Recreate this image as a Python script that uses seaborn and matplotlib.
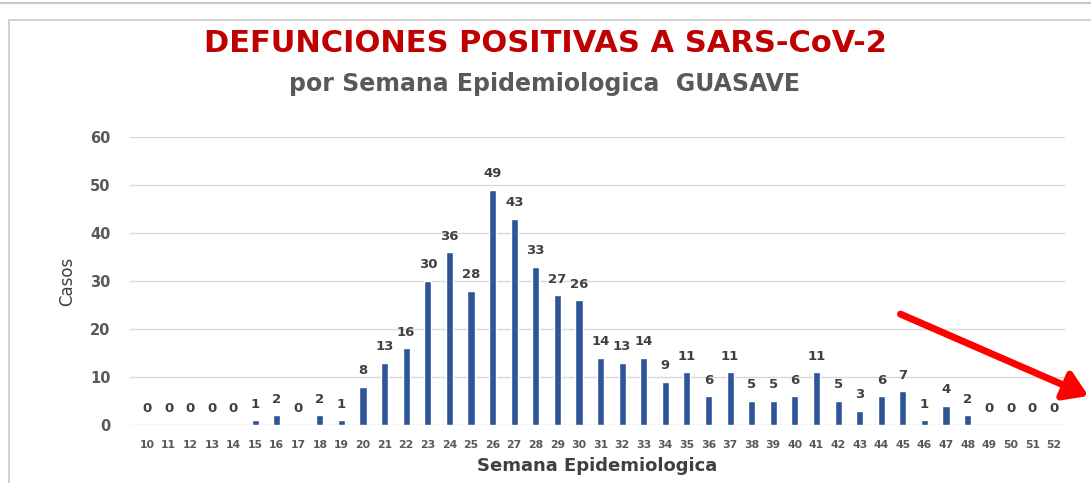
import pandas as pd
import numpy as np
import matplotlib.pyplot as plt
import seaborn as sns
from matplotlib.patches import Rectangle, FancyArrowPatch
from matplotlib.lines import Line2D

# Data
semanas = [str(s) for s in range(10, 53)]
defunciones = [0, 0, 0, 0, 0, 1, 2, 0, 2, 1, 8, 13, 16, 30, 36, 28, 49, 43, 33, 27,
               26, 14, 13, 14, 9, 11, 6, 11, 5, 5, 6, 11, 5, 3, 6, 7, 1, 4, 2, 0,
               0, 0, 0]
yticks = [0, 10, 20, 30, 40, 50, 60]

df = pd.DataFrame({'Semana': semanas, 'Casos': defunciones})

sns.set_style('white')
plt.rcParams['font.family'] = ['DejaVu Sans']

fig = plt.figure(figsize=(10.91, 4.83), dpi=100)
ax = fig.add_axes([0.119, 0.120, 0.857, 0.596])

sns.barplot(data=df, x='Semana', y='Casos', order=semanas, color='#2E5597',
            width=0.33, saturation=1, ax=ax)

ax.bar_label(ax.containers[0], labels=[str(v) for v in defunciones], padding=7,
             fontsize=9.5, fontweight='bold', color='#404040')

ax.set_ylim(0, 60)
ax.set_xlim(-0.8, 42.5)
ax.set_yticks(yticks)
ax.yaxis.grid(True, color='#D9D9D9', linewidth=1)
ax.set_axisbelow(True)
for s in ax.spines.values():
    s.set_visible(False)

ax.tick_params(axis='y', length=0, pad=14, labelsize=10.5, labelcolor='#595959')
ax.tick_params(axis='x', length=0, pad=11, labelsize=7.8, labelcolor='#595959')
for t in ax.get_yticklabels() + ax.get_xticklabels():
    t.set_fontweight('bold')

ax.set_xlabel('Semana Epidemiologica', fontsize=13, fontweight='bold', color='#404040', labelpad=5)
ax.set_ylabel('Casos', fontsize=12, color='#404040', labelpad=10)

# Titles
fig.text(0.50, 0.909, 'DEFUNCIONES POSITIVAS A SARS-CoV-2', ha='center', va='center',
         fontsize=22, fontweight='bold', color='#C00000')
fig.text(0.499, 0.826, 'por Semana Epidemiologica  GUASAVE', ha='center', va='center',
         fontsize=17, fontweight='bold', color='#595959')

# Frame of the slide
fig.add_artist(Line2D([0, 1], [0.993, 0.993], color='#C8C8C8', linewidth=1.5))
fig.add_artist(Rectangle((0.008, -0.05), 1.1, 1.009, fill=False, edgecolor='#C8C8C8', linewidth=1.2))

# Red arrow
fig.add_artist(FancyArrowPatch((0.823, 0.352), (1.0, 0.178), arrowstyle='-|>,head_length=14,head_width=9',
                               color='#FF0000', linewidth=5, mutation_scale=1))

fig.savefig('out.png', dpi=100)
